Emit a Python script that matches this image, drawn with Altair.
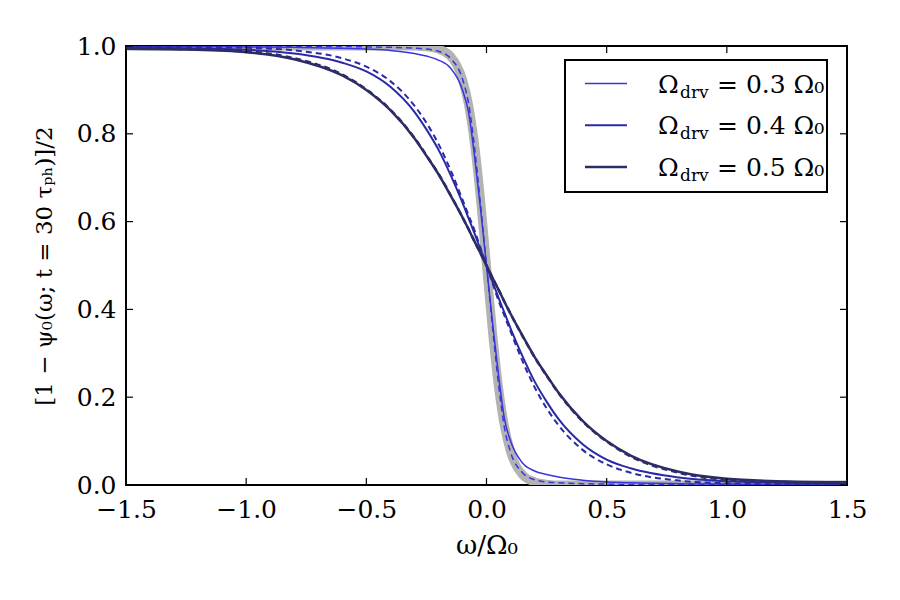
import altair as alt
import pandas as pd

# ---------------- data ----------------
omega = [-1.5, -1.25, -1.0, -0.8, -0.6, -0.5, -0.4, -0.3, -0.25, -0.2, -0.15, -0.1,
         -0.075, -0.05, -0.025, 0.0, 0.025, 0.05, 0.075, 0.1, 0.15, 0.2, 0.25, 0.3,
         0.4, 0.5, 0.6, 0.8, 1.0, 1.25, 1.5]

ideal = [1.0, 1.0, 1.0, 1.0, 1.0, 1.0, 1.0, 1.0, 0.998, 0.993, 0.977, 0.924,
         0.867, 0.777, 0.651, 0.5, 0.349, 0.223, 0.133, 0.076, 0.023, 0.007, 0.002, 0.0,
         0.0, 0.0, 0.0, 0.0, 0.0, 0.0, 0.0]

drv03 = [0.999, 0.999, 0.998, 0.997, 0.995, 0.993, 0.99, 0.983, 0.977, 0.968, 0.95, 0.90,
         0.85, 0.75, 0.63, 0.5, 0.37, 0.25, 0.15, 0.10, 0.05, 0.032, 0.024, 0.018,
         0.011, 0.007, 0.005, 0.003, 0.002, 0.001, 0.001]
drv03_approx = [1.0, 1.0, 0.999, 0.999, 0.999, 0.998, 0.997, 0.995, 0.993, 0.988, 0.972, 0.925,
                0.87, 0.77, 0.64, 0.5, 0.36, 0.23, 0.13, 0.075, 0.028, 0.012, 0.007, 0.005,
                0.003, 0.002, 0.001, 0.001, 0.001, 0.0, 0.0]

drv04 = [0.997, 0.995, 0.9915, 0.983, 0.962, 0.942, 0.907, 0.85, 0.81, 0.764, 0.707, 0.643,
         0.608, 0.573, 0.537, 0.5, 0.463, 0.427, 0.392, 0.357, 0.293, 0.236, 0.19, 0.15,
         0.093, 0.058, 0.038, 0.017, 0.0085, 0.005, 0.003]
drv04_approx = [0.999, 0.998, 0.996, 0.99, 0.972, 0.953, 0.92, 0.864, 0.825, 0.777, 0.718, 0.65,
                0.615, 0.58, 0.54, 0.5, 0.46, 0.42, 0.385, 0.35, 0.282, 0.223, 0.175, 0.136,
                0.08, 0.047, 0.028, 0.01, 0.004, 0.002, 0.001]

drv05 = [0.994, 0.992, 0.986, 0.97, 0.933, 0.9, 0.854, 0.79, 0.75, 0.708, 0.66, 0.61,
         0.583, 0.555, 0.528, 0.5, 0.472, 0.445, 0.417, 0.39, 0.34, 0.292, 0.25, 0.21,
         0.146, 0.1, 0.067, 0.03, 0.014, 0.008, 0.006]
drv05_approx = [0.995, 0.993, 0.988, 0.972, 0.935, 0.901, 0.855, 0.791, 0.751, 0.709, 0.661, 0.61,
                0.583, 0.555, 0.528, 0.5, 0.472, 0.445, 0.417, 0.39, 0.339, 0.291, 0.249, 0.209,
                0.145, 0.099, 0.065, 0.028, 0.012, 0.007, 0.005]

labels = ["0.3", "0.4", "0.5"]
xticks = [-1.5, -1.0, -0.5, 0.0, 0.5, 1.0, 1.5]
yticks = [0.0, 0.2, 0.4, 0.6, 0.8, 1.0]

# ---------------- styling ----------------
W, H = 721, 439
FONT = "DejaVu Serif"
FS = 25
GRAY = "#b3b3b3"
COLORS = ["#3636dc", "#2a2aa6", "#2c2c66"]
WIDTHS = [1.5, 2.0, 2.5]

xscale = alt.Scale(domain=[-1.5, 1.5], nice=False, zero=False)
yscale = alt.Scale(domain=[0.0, 1.0], nice=False)

xaxis = alt.Axis(values=xticks, format=".1f", title="ω/Ω₀", ticks=False, domain=False,
                 grid=False, labelFont=FONT, labelFontSize=FS, labelPadding=12,
                 labelFlush=False, labelOverlap=False, labelColor="black",
                 titleFont=FONT, titleFontSize=26, titleFontWeight="normal",
                 titleColor="black", titlePadding=10)
yaxis = alt.Axis(values=yticks, format=".1f", title="[1 − ψ₀(ω; t = 30 τₚₕ)]/2",
                 ticks=False, domain=False, grid=False, labelFont=FONT, labelFontSize=FS,
                 labelPadding=10, labelOverlap=False, labelColor="black",
                 titleFont=FONT, titleFontSize=23, titleFontWeight="normal",
                 titleColor="black", titlePadding=20)


def line_layer(vals, color, width, dash=None):
    df = pd.DataFrame({"omega": omega, "value": vals})
    kw = dict(color=color, strokeWidth=width, interpolate="monotone", clip=True)
    if dash:
        kw["strokeDash"] = dash
    return alt.Chart(df).mark_line(**kw).encode(
        x=alt.X("omega:Q", scale=xscale, axis=xaxis),
        y=alt.Y("value:Q", scale=yscale, axis=yaxis),
    )


layers = [line_layer(ideal, GRAY, 9)]
for solid, approx, c, w in zip([drv03, drv04, drv05],
                               [drv03_approx, drv04_approx, drv05_approx],
                               COLORS, WIDTHS):
    layers.append(line_layer(solid, c, w))
    layers.append(line_layer(approx, c, w, dash=[6, 4]))

# inward ticks on all four sides
tx = pd.DataFrame({"t": xticks})
ty = pd.DataFrame({"t": yticks})
TL = 7
for y0, y1 in [(H, H - TL), (0, TL)]:
    layers.append(alt.Chart(tx).mark_rule(color="black", strokeWidth=1.2).encode(
        x=alt.X("t:Q", scale=xscale, axis=xaxis), y=alt.value(y0), y2=alt.value(y1)))
for x0, x1 in [(0, TL), (W, W - TL)]:
    layers.append(alt.Chart(ty).mark_rule(color="black", strokeWidth=1.2).encode(
        y=alt.Y("t:Q", scale=yscale, axis=yaxis), x=alt.value(x0), x2=alt.value(x1)))

# legend box
one = pd.DataFrame({"k": [0]})
layers.append(alt.Chart(one).mark_rect(fill="white", stroke="black", strokeWidth=2).encode(
    x=alt.value(439), x2=alt.value(701), y=alt.value(14), y2=alt.value(146)))

LY0, LDY = 37.5, 41.7
for i, (lab, c, w) in enumerate(zip(labels, COLORS, WIDTHS)):
    ly = LY0 + i * LDY
    d = pd.DataFrame({"omega_sym": ["Ω"], "sub": ["drv"], "rest": [f"= {lab} Ω₀"]})
    layers.append(alt.Chart(d).mark_rule(color=c, strokeWidth=w).encode(
        x=alt.value(459), x2=alt.value(501), y=alt.value(ly)))
    layers.append(alt.Chart(d).mark_text(align="left", baseline="alphabetic", font=FONT,
                                         fontSize=FS, color="black").encode(
        x=alt.value(532), y=alt.value(ly + 9), text="omega_sym:N"))
    layers.append(alt.Chart(d).mark_text(align="left", baseline="alphabetic", font=FONT,
                                         fontSize=17, color="black").encode(
        x=alt.value(554), y=alt.value(ly + 14), text="sub:N"))
    layers.append(alt.Chart(d).mark_text(align="left", baseline="alphabetic", font=FONT,
                                         fontSize=FS, color="black").encode(
        x=alt.value(591), y=alt.value(ly + 9), text="rest:N"))

chart = alt.layer(*layers).properties(
    width=W, height=H,
    autosize=alt.AutoSizeParams(type="none"),
    padding={"left": 126, "top": 46, "right": 53, "bottom": 115},
    background="white",
).configure_view(stroke="black", strokeWidth=2)

chart.save("out.html", embed_options={"renderer": "svg", "actions": False})
